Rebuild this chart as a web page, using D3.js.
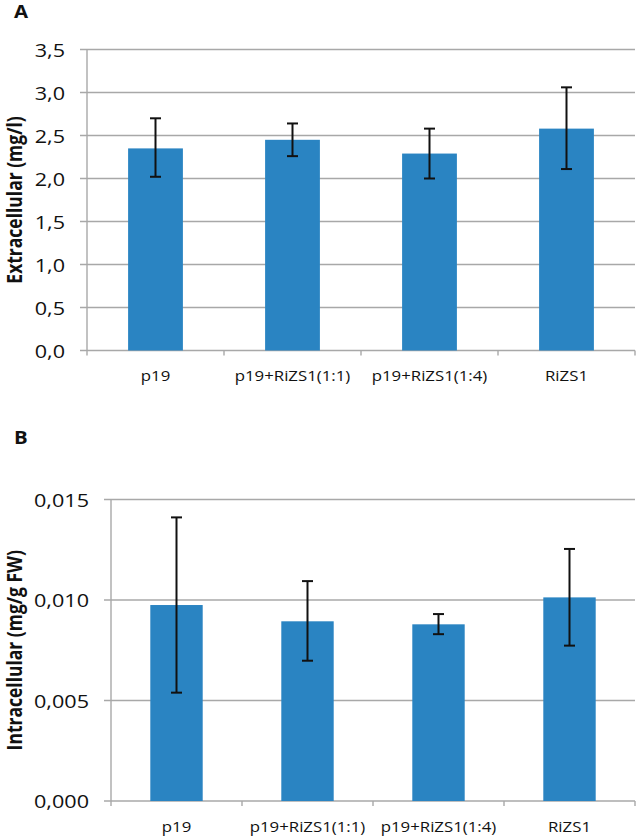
<!DOCTYPE html>
<html>
<head>
<meta charset="utf-8">
<script src="https://cdn.jsdelivr.net/npm/d3@7/dist/d3.min.js"></script>
<style>
  html, body { margin: 0; padding: 0; background: #fff; }
  svg { display: block; }
  text { font-family: "Open Sans", "Liberation Sans", sans-serif; fill: #111; }
</style>
</head>
<body>
<svg id="chart" width="640" height="836"></svg>
<script>
// ---- data ----
const categories = ["p19", "p19+RiZS1(1:1)", "p19+RiZS1(1:4)", "RiZS1"];

const extraMean = [2.35, 2.45, 2.29, 2.58];
const extraLow  = [2.02, 2.26, 2.00, 2.11];
const extraHigh = [2.70, 2.64, 2.58, 3.06];
const extraTicks = [0, 0.5, 1.0, 1.5, 2.0, 2.5, 3.0, 3.5];

const intraMean = [0.00975, 0.00894, 0.00879, 0.01013];
const intraLow  = [0.00539, 0.00698, 0.00830, 0.00773];
const intraHigh = [0.01411, 0.01094, 0.00930, 0.01254];
const intraTicks = [0, 0.005, 0.010, 0.015];

const svg = d3.select("#chart");
const barColor = "#2a84c2";
const gridColor = "#a8a8a8";
const sx = 1.2; // horizontal stretch of the original figure's text

function panel(cfg) {
  const g = svg.append("g");
  const x = d3.scaleBand().domain(categories)
    .range([cfg.left, cfg.right]).paddingInner(0.6).paddingOuter(0.3);
  const y = d3.scaleLinear().domain(cfg.domain).range([cfg.bottom, cfg.top]);
  const step = x.step();

  // gridlines + y tick marks
  g.selectAll("line.grid").data(cfg.ticks).join("line")
    .attr("x1", cfg.left - 7).attr("x2", cfg.right)
    .attr("y1", d => y(d)).attr("y2", d => y(d))
    .attr("stroke", gridColor).attr("stroke-width", 1.4);

  // y axis line
  g.append("line").attr("x1", cfg.left).attr("x2", cfg.left)
    .attr("y1", y(cfg.domain[1])).attr("y2", y(cfg.domain[0]))
    .attr("stroke", gridColor).attr("stroke-width", 1.4);

  // x tick marks at band boundaries
  const bounds = categories.map(c => x(c) - x.paddingInner() * step / 2)
    .concat([cfg.right]);
  g.selectAll("line.xt").data(bounds).join("line")
    .attr("x1", d => d).attr("x2", d => d)
    .attr("y1", y(0)).attr("y2", y(0) + 5)
    .attr("stroke", gridColor).attr("stroke-width", 1.4);

  // y tick labels
  g.selectAll("text.yt").data(cfg.ticks).join("text")
    .attr("transform", d => `translate(${cfg.left - 22},${y(d) + 7}) scale(${sx},1)`)
    .attr("text-anchor", "end")
    .attr("font-size", 18)
    .text(d => d.toFixed(cfg.dec).replace(".", ","));

  // bars
  g.selectAll("rect.bar").data(cfg.mean).join("rect")
    .attr("x", (d, i) => x(categories[i]))
    .attr("width", x.bandwidth())
    .attr("y", d => y(d))
    .attr("height", d => y(0) - y(d))
    .attr("fill", barColor);

  // error bars
  const cx = i => x(categories[i]) + x.bandwidth() / 2;
  const eg = g.append("g").attr("stroke", "#111").attr("stroke-width", 2);
  cfg.mean.forEach((m, i) => {
    eg.append("line").attr("x1", cx(i)).attr("x2", cx(i))
      .attr("y1", y(cfg.high[i])).attr("y2", y(cfg.low[i]));
    [cfg.high[i], cfg.low[i]].forEach(v => {
      eg.append("line").attr("x1", cx(i) - 5.5).attr("x2", cx(i) + 5.5)
        .attr("y1", y(v)).attr("y2", y(v));
    });
  });

  // category labels
  g.selectAll("text.cat").data(categories).join("text")
    .attr("transform", d => `translate(${x(d) + x.bandwidth() / 2},${cfg.catY}) scale(${sx},1)`)
    .attr("text-anchor", "middle")
    .attr("font-size", 14)
    .text(d => d);

  // y title
  g.append("text")
    .attr("transform", `translate(${cfg.titleX},${(cfg.top + cfg.bottom) / 2}) scale(${sx},1) rotate(-90)`)
    .attr("text-anchor", "middle")
    .attr("font-size", 17.5).attr("font-weight", "bold")
    .text(cfg.title);

  // panel letter
  g.append("text")
    .attr("transform", `translate(14,${cfg.letterY}) scale(${sx},1)`)
    .attr("font-size", 17).attr("font-weight", "bold")
    .text(cfg.letter);
}

panel({
  letter: "A", letterY: 18,
  left: 87, right: 635, top: 49.5, bottom: 350.5,
  domain: [0, 3.5], ticks: extraTicks, dec: 1,
  mean: extraMean, low: extraLow, high: extraHigh,
  catY: 381, titleX: 22, title: "Extracellular (mg/l)"
});

panel({
  letter: "B", letterY: 444,
  left: 111, right: 635, top: 499.5, bottom: 801,
  domain: [0, 0.015], ticks: intraTicks, dec: 3,
  mean: intraMean, low: intraLow, high: intraHigh,
  catY: 832, titleX: 22, title: "Intracellular (mg/g FW)"
});
</script>
</body>
</html>
